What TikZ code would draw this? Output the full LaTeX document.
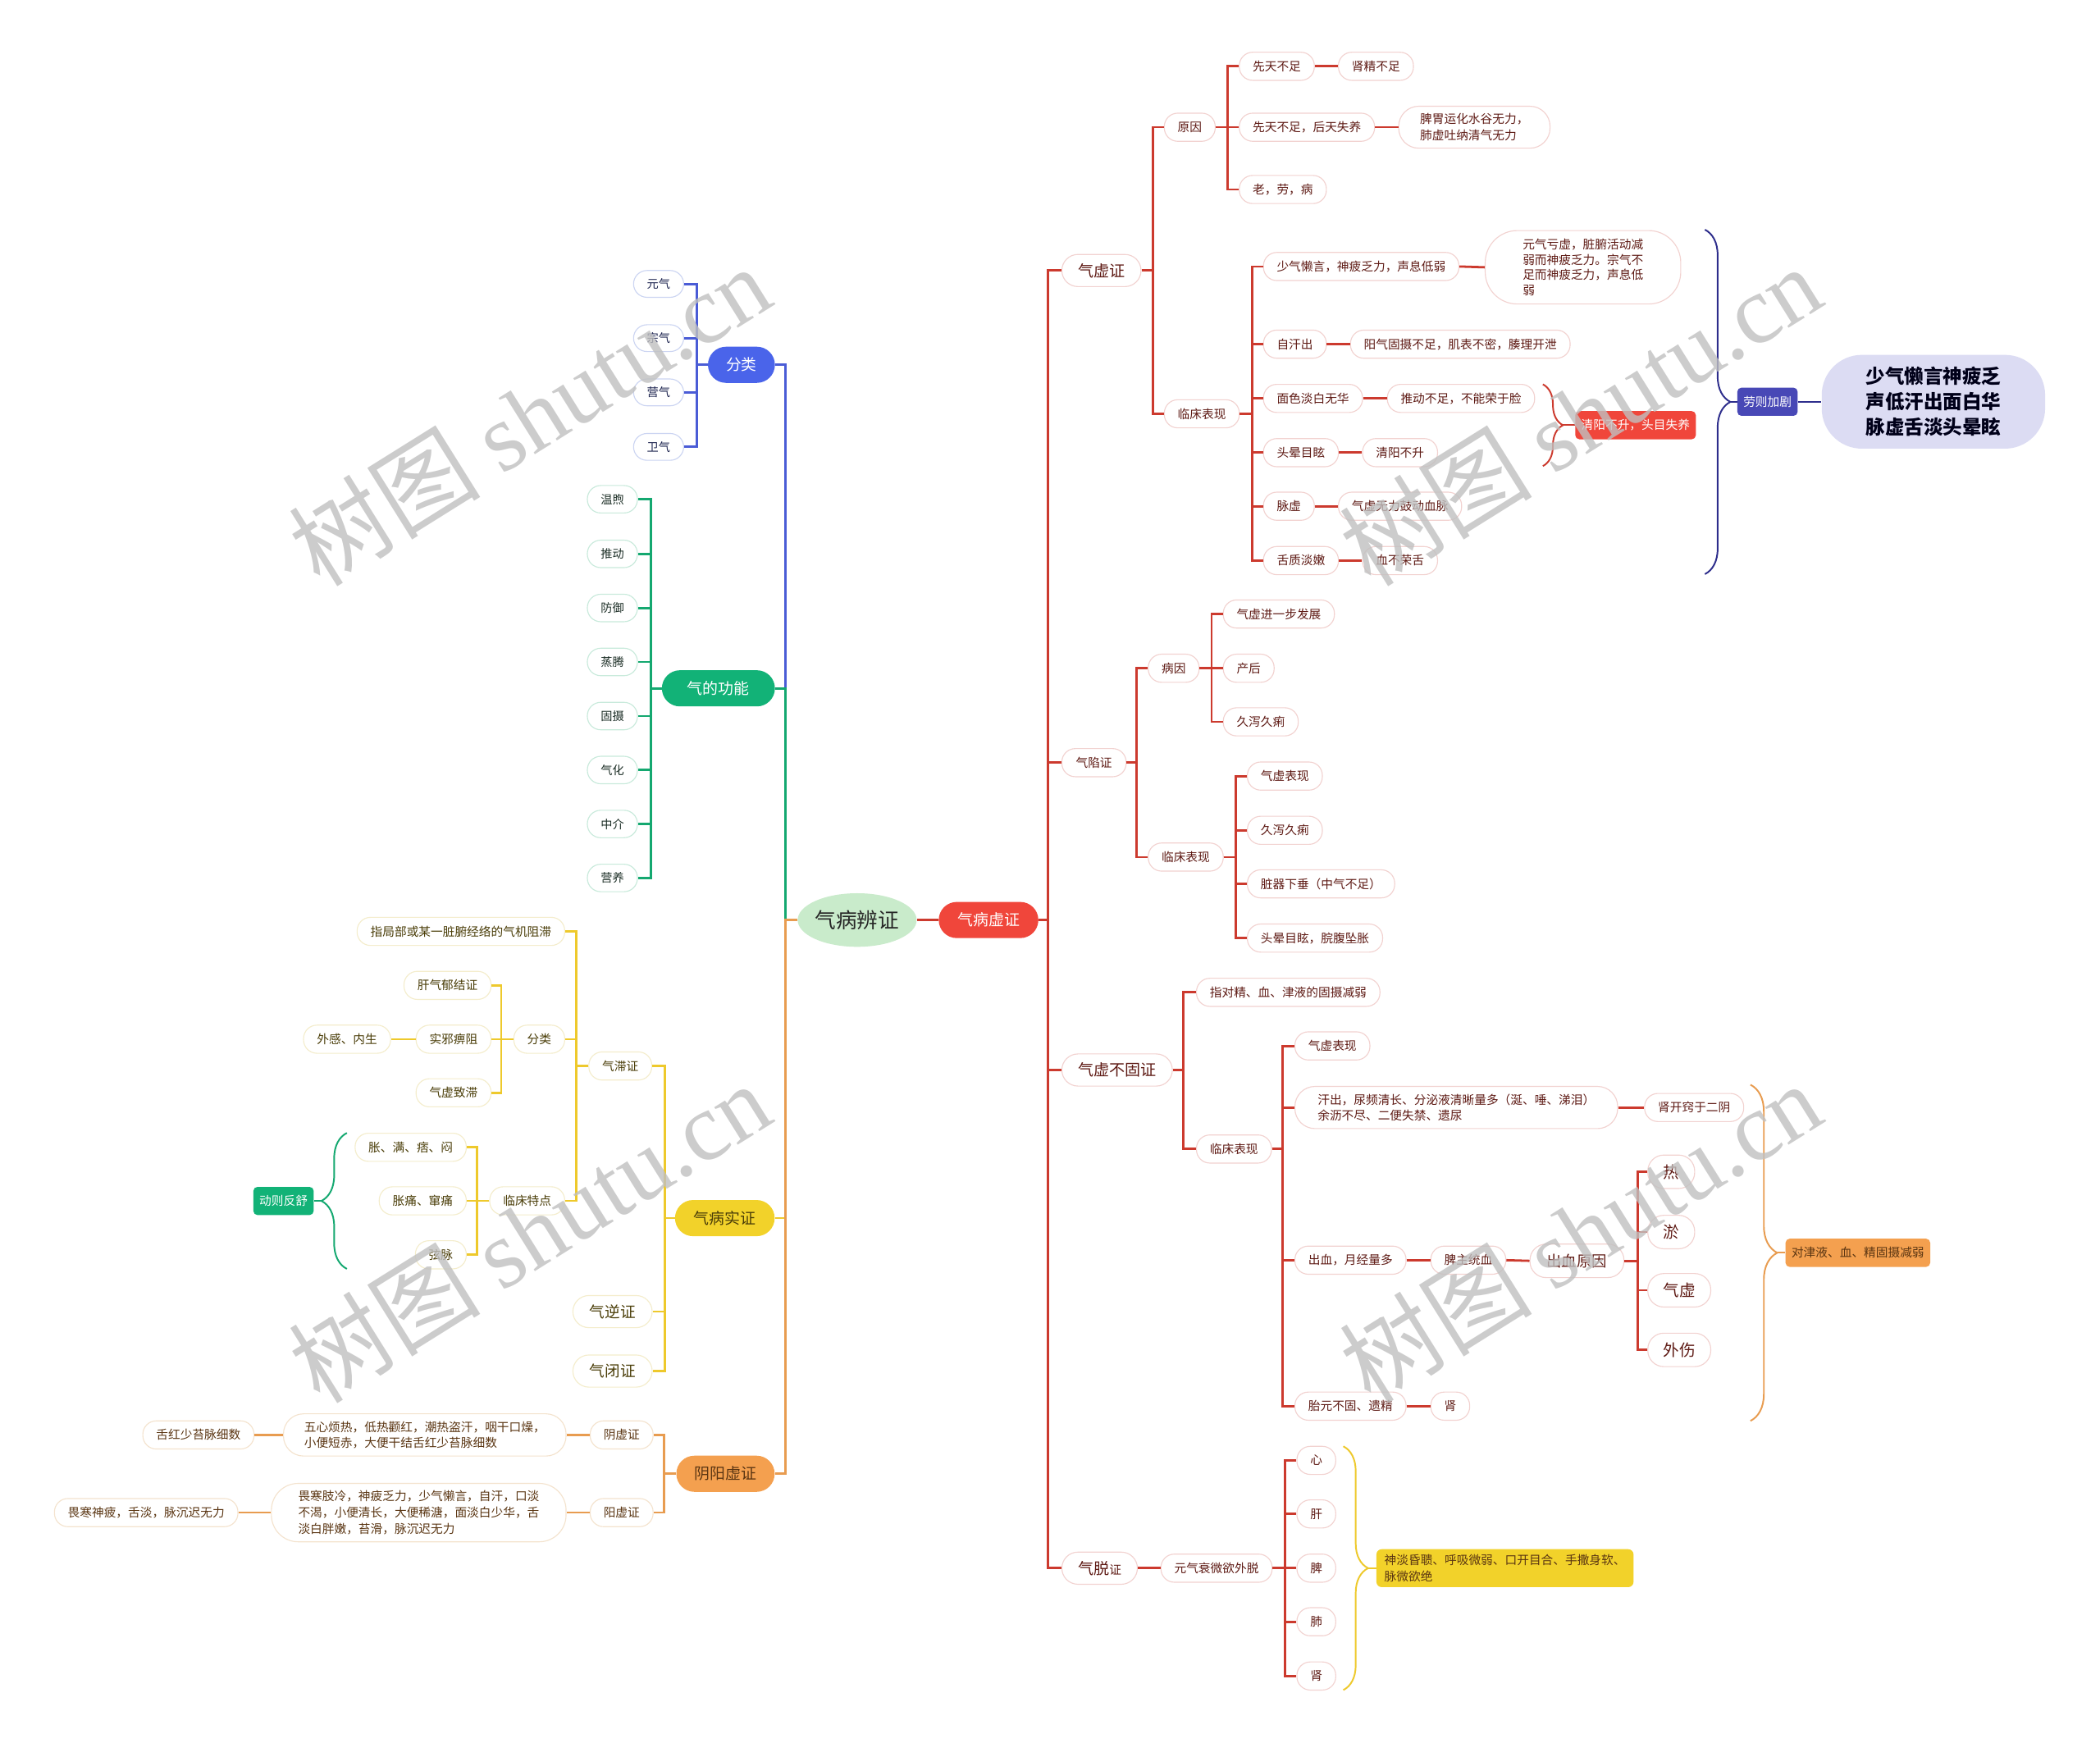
\documentclass[tikz,border=0pt]{standalone}
\usepackage{fontspec}
\setmainfont{Noto Sans CJK SC}
\newfontfamily\wmfont{Liberation Serif}
\usetikzlibrary{decorations.pathreplacing,shapes.geometric}
\newcommand\fsz[2]{\fontsize{#1}{#2}\selectfont}
\definecolor{rline}{HTML}{CC3A2E}
\definecolor{rbd}{HTML}{F2D2D0}
\definecolor{rtx}{HTML}{5E1A14}
\definecolor{rfill}{HTML}{F0463B}
\definecolor{bline}{HTML}{4A5CD6}
\definecolor{bfill}{HTML}{4A64EA}
\definecolor{bbd}{HTML}{CCD5F2}
\definecolor{btx}{HTML}{1E2550}
\definecolor{gline}{HTML}{14A870}
\definecolor{gfill}{HTML}{12B277}
\definecolor{gbd}{HTML}{C8EADB}
\definecolor{gtx}{HTML}{1C2E26}
\definecolor{yline}{HTML}{EEC92C}
\definecolor{yfill}{HTML}{F2D22A}
\definecolor{ybd}{HTML}{F4EDCC}
\definecolor{ytx}{HTML}{4A3D08}
\definecolor{oline}{HTML}{E89C50}
\definecolor{ofill}{HTML}{F4A04F}
\definecolor{obd}{HTML}{F4E3CE}
\definecolor{otx}{HTML}{5A3512}
\definecolor{navy}{HTML}{2E2E8C}
\definecolor{navyfill}{HTML}{4848B6}
\definecolor{lav}{HTML}{DCDCF3}
\definecolor{rootfill}{HTML}{C9EBCB}
\definecolor{wmc}{HTML}{C0C0C0}
\tikzset{
  conn/.style={line width=1.7pt},
  rl/.style={conn, draw=rline},
  bl/.style={conn, draw=bline},
  gl/.style={conn, draw=gline},
  yl/.style={conn, draw=yline},
  ol/.style={conn, draw=oline},
  box/.style={draw, fill=white, line width=0.7pt, rounded corners=10pt, inner xsep=10pt, inner ysep=2pt, minimum height=21pt, align=left, font={\fsz{9}{12}}},
  rn/.style={box, draw=rbd, text=rtx},
  bn/.style={box, draw=bbd, text=btx, minimum height=20pt, font={\fsz{8.7}{11}}},
  gn/.style={box, draw=gbd, text=gtx, minimum height=20.5pt, font={\fsz{8.7}{11}}},
  yn/.style={box, draw=ybd, text=ytx},
  orn/.style={box, draw=obd, text=otx},
  lvl/.style={font={\fsz{11.7}{14}}, inner xsep=12pt, minimum height=24pt, rounded corners=12pt},
  two/.style={inner ysep=5.5pt, rounded corners=15pt},
  pill/.style={draw=none, rounded corners=13.5pt, minimum height=27pt, inner xsep=14pt, inner ysep=2pt, font={\fsz{11.6}{14}}},
  tag/.style={draw=none, rounded corners=3pt, inner xsep=4.5pt, inner ysep=2pt, minimum height=21pt, font={\fsz{9}{12}}},
  brc/.style={decorate, decoration={brace, amplitude=#1}, line width=1.2pt},
  wm/.style={rotate=32, text=wmc, font={\fsz{72}{72}}, inner sep=0pt},
}
\newcommand\wmtext{树图 {\wmfont shutu.cn}}
\begin{document}
\begin{tikzpicture}[x=1pt,y=-1pt]
\fill[white] (0,0) rectangle (1568,1301);
\useasboundingbox (0,0) rectangle (1568,1301);

% ---------- root ----------
\node[ellipse, fill=rootfill, minimum width=88pt, minimum height=40pt, inner sep=0pt, font={\fsz{15.7}{18}}, text=black!85] (root) at (640,687) {气病辨证};
\node[pill, fill=rfill, text=white, anchor=west] (xz) at (700.7,687) {气病虚证};
\draw[rl] (root.east) -- (xz.west);

% ---------- right: level 2 ----------
\node[rn, lvl, anchor=west] (qxz) at (792.5,202) {气虚证};
\node[rn, anchor=west, inner xsep=10.5pt] (qxian) at (792.5,569.5) {气陷证};
\node[rn, lvl, anchor=west] (qbg) at (792.5,799) {气虚不固证};
\node[rn, lvl, anchor=west] (qtz) at (792.5,1171) {{\fsz{11.7}{14}气脱}{\fsz{9}{12}证}};
\foreach \c in {qxz,qxian,qbg,qtz} \draw[rl] (xz.east) -- ++(7,0) |- (\c.west);

% 气虚证
\node[rn, anchor=west] (yy) at (869,95) {原因};
\node[rn, anchor=west] (lc1) at (869,309) {临床表现};
\foreach \c in {yy,lc1} \draw[rl] (qxz.east) -- ++(8.5,0) |- (\c.west);

\node[rn, anchor=west] (xt1) at (925,49.5) {先天不足};
\node[rn, anchor=west] (sj) at (999,49.5) {肾精不足};
\node[rn, anchor=west] (xt2) at (925,95) {先天不足，后天失养};
\node[rn, two, anchor=west, inner xsep=16pt] (pw) at (1044,95) {脾胃运化水谷无力，\\肺虚吐纳清气无力};
\node[rn, anchor=west] (lao) at (925,141.5) {老，劳，病};
\foreach \c in {xt1,xt2,lao} \draw[rl] (yy.east) -- ++(9,0) |- (\c.west);
\draw[rl] (xt1.east) -- (sj.west);
\draw[rl] (xt2.east) -- (pw.west);

\node[rn, anchor=west] (s1) at (943,199) {少气懒言，神疲乏力，声息低弱};
\node[rn, anchor=west, inner xsep=28pt, inner ysep=6pt, rounded corners=24pt, font={\fsz{9}{11.5}}] (s1b) at (1108.6,199.6) {元气亏虚，脏腑活动减\\弱而神疲乏力。宗气不\\足而神疲乏力，声息低\\弱};
\node[rn, anchor=west] (s2) at (943,257) {自汗出};
\node[rn, anchor=west] (s2b) at (1008,257) {阳气固摄不足，肌表不密，腠理开泄};
\node[rn, anchor=west] (s3) at (943,297.5) {面色淡白无华};
\node[rn, anchor=west] (s3b) at (1035.5,297.5) {推动不足，不能荣于脸};
\node[rn, anchor=west] (s4) at (943,338) {头晕目眩};
\node[rn, anchor=west] (s4b) at (1017,338) {清阳不升};
\node[rn, anchor=west] (s5) at (943,378) {脉虚};
\node[rn, anchor=west] (s5b) at (999,378) {气虚无力鼓动血脉};
\node[rn, anchor=west] (s6) at (943,418.6) {舌质淡嫩};
\node[rn, anchor=west] (s6b) at (1017,418.6) {血不荣舌};
\foreach \c in {s1,s2,s3,s4,s5,s6} \draw[rl] (lc1.east) -- ++(9.5,0) |- (\c.west);
\foreach \a/\b in {s1/s1b,s2/s2b,s3/s3b,s4/s4b,s5/s5b,s6/s6b} \draw[rl] (\a.east) -- (\b.west);

\draw[brc=15pt, draw=rline] (1152,287) -- (1152,348);
\coordinate (rtip) at (1167,317.5);
\node[tag, fill=rfill, text=white, anchor=west] (qyb) at (1176,317.5) {清阳不升，头目失养};
\draw[rline, line width=1.2pt] (rtip) -- (qyb.west);

\draw[brc=19pt, draw=navy] (1273,171.5) -- (1273,428.7);
\coordinate (ntip) at (1292,300);
\node[tag, fill=navyfill, text=white, anchor=west] (ljjj) at (1297,300) {劳则加剧};
\draw[navy, line width=1.2pt] (ntip) -- (ljjj.west);
\node[draw=none, fill=lav, anchor=west, rounded corners=30pt, inner xsep=33pt, inner ysep=9pt, minimum height=68pt, align=center, font={\fsz{14.4}{19}\bfseries}, text=black!90!blue] (big) at (1360,300) {少气懒言神疲乏\\声低汗出面白华\\脉虚舌淡头晕眩};
\draw[navy, line width=1.5pt] (ljjj.east) -- (big.west);

% 气陷证
\node[rn, anchor=west] (by) at (857,499) {病因};
\node[rn, anchor=west] (lc2) at (857,640) {临床表现};
\foreach \c in {by,lc2} \draw[rl] (qxian.east) -- ++(7.5,0) |- (\c.west);
\node[rn, anchor=west] (b1) at (913,458.5) {气虚进一步发展};
\node[rn, anchor=west] (b2) at (913,499) {产后};
\node[rn, anchor=west] (b3) at (913,539) {久泻久痢};
\foreach \c in {b1,b2,b3} \draw[rl] (by.east) -- ++(9,0) |- (\c.west);
\node[rn, anchor=west] (c1) at (931,579.5) {气虚表现};
\node[rn, anchor=west] (c2) at (931,620) {久泻久痢};
\node[rn, anchor=west] (c3) at (931,660) {脏器下垂（中气不足）};
\node[rn, anchor=west] (c4) at (931,700.5) {头晕目眩，脘腹坠胀};
\foreach \c in {c1,c2,c3,c4} \draw[rl] (lc2.east) -- ++(9,0) |- (\c.west);

% 气虚不固证
\node[rn, anchor=west] (zd) at (893,741) {指对精、血、津液的固摄减弱};
\node[rn, anchor=west] (lc3) at (893,858) {临床表现};
\foreach \c in {zd,lc3} \draw[rl] (qbg.east) -- ++(8,0) |- (\c.west);
\node[rn, anchor=west] (d1) at (966.5,781) {气虚表现};
\node[rn, two, anchor=west, inner xsep=17pt] (d2) at (966.5,827) {汗出，尿频清长、分泌液清晰量多（涎、唾、涕泪）\\余沥不尽、二便失禁、遗尿};
\node[rn, anchor=west] (d2b) at (1227.6,827) {肾开窍于二阴};
\node[rn, anchor=west] (d3) at (966.5,941) {出血，月经量多};
\node[rn, anchor=west] (d3b) at (1068,941) {脾主统血};
\node[rn, anchor=west, font={\fsz{11.3}{14}}, inner xsep=12.5pt, minimum height=25pt, rounded corners=12pt] (cy) at (1142,941.5) {出血原因};
\node[rn, anchor=west] (d4) at (966.5,1050) {胎元不固、遗精};
\node[rn, anchor=west] (d4b) at (1068,1050) {肾};
\foreach \c in {d1,d2,d3,d4} \draw[rl] (lc3.east) -- ++(8,0) |- (\c.west);
\draw[rl] (d2.east) -- (d2b.west);
\draw[rl] (d3.east) -- (d3b.west);
\draw[rl] (d3b.east) -- (cy.west);
\draw[rl] (d4.east) -- (d4b.west);
\foreach \n/\t/\y in {h1/热/875, h2/淤/920, h3/气虚/963.5, h4/外伤/1008}
  \node[rn, anchor=west, font={\fsz{12}{14}}, inner xsep=11.5pt, minimum height=25pt, rounded corners=12pt] (\n) at (1230,\y) {\t};
\foreach \c in {h1,h2,h3,h4} \draw[rl] (cy.east) -- ++(10,0) |- (\c.west);

\draw[brc=20pt, draw=oline] (1307,810) -- (1307,1061);
\coordinate (otip) at (1327,935.5);
\node[tag, fill=ofill, text=otx, anchor=west] (djy) at (1333,935.5) {对津液、血、精固摄减弱};
\draw[oline, line width=1.2pt] (otip) -- (djy.west);

% 气脱证
\node[rn, anchor=west] (yq) at (866.5,1171) {元气衰微欲外脱};
\draw[rl] (qtz.east) -- (yq.west);
\foreach \n/\t/\y in {z1/心/1090.5, z2/肝/1130.5, z3/脾/1171, z4/肺/1211, z5/肾/1251.5}
  \node[rn, anchor=west] (\n) at (968,\y) {\t};
\foreach \c in {z1,z2,z3,z4,z5} \draw[rl] (yq.east) -- ++(9.5,0) |- (\c.west);
\draw[brc=18.5pt, draw=yline] (1003,1080) -- (1003,1262);
\coordinate (ytip) at (1021.5,1171);
\node[tag, fill=yfill, text=otx, anchor=west, align=left, inner xsep=6pt, inner ysep=4pt, rounded corners=4pt] (sd) at (1027.5,1171) {神淡昏聩、呼吸微弱、口开目合、手撒身软、\\脉微欲绝};
\draw[yline, line width=1.2pt] (ytip) -- (sd.west);

% ---------- left ----------
\node[pill, fill=bfill, text=white, anchor=east, inner xsep=13.5pt, font={\fsz{11.5}{14}}] (fl) at (578.8,272.4) {分类};
\node[pill, fill=gfill, text=white, anchor=east, inner xsep=19pt] (gf) at (578.8,514) {气的功能};
\node[pill, fill=yfill, text=ytx, anchor=east] (sz) at (578.6,909.6) {气病实证};
\node[pill, fill=ofill, text=otx, anchor=east, inner xsep=13.5pt] (yy2) at (578.6,1100.5) {阴阳虚证};
\draw[bl] (root.west) -- ++(-9,0) |- (fl.east);
\draw[gl] (root.west) -- ++(-9,0) |- (gf.east);
\draw[yl] (root.west) -- ++(-9,0) |- (sz.east);
\draw[ol] (root.west) -- ++(-9,0) |- (yy2.east);

\foreach \n/\t/\y in {k1/元气/212, k2/宗气/252.5, k3/营气/293, k4/卫气/333.7}
  \node[bn, anchor=east] (\n) at (510.8,\y) {\t};
\foreach \c in {k1,k2,k3,k4} \draw[bl] (fl.west) -- ++(-8.2,0) |- (\c.east);

\foreach \n/\t/\y in {f1/温煦/372.8, f2/推动/413.6, f3/防御/454, f4/蒸腾/494.3, f5/固摄/534.7, f6/气化/575, f7/中介/615.3, f8/营养/655.6}
  \node[gn, anchor=east] (\n) at (476.3,\y) {\t};
\foreach \c in {f1,f2,f3,f4,f5,f6,f7,f8} \draw[gl] (gf.west) -- ++(-8.2,0) |- (\c.east);

% 气病实证
\node[yn, anchor=east] (qz) at (487,796) {气滞证};
\node[yn, lvl, anchor=east, font={\fsz{11.4}{14}}, inner xsep=12.5pt] (qn) at (487.3,979.4) {气逆证};
\node[yn, lvl, anchor=east, font={\fsz{11.4}{14}}, inner xsep=12.5pt] (qb) at (487.3,1023.8) {气闭证};
\foreach \c in {qz,qn,qb} \draw[yl] (sz.west) -- ++(-7.6,0) |- (\c.east);

\node[yn, anchor=east] (zj) at (422,695.5) {指局部或某一脏腑经络的气机阻滞};
\node[yn, anchor=east] (fl2) at (422,776) {分类};
\node[yn, anchor=east] (lt) at (422,896.7) {临床特点};
\foreach \c in {zj,fl2,lt} \draw[yl] (qz.west) -- ++(-9,0) |- (\c.east);

\node[yn, anchor=east] (g1) at (367,735.8) {肝气郁结证};
\node[yn, anchor=east] (g2) at (367,776) {实邪痹阻};
\node[yn, anchor=east] (g2b) at (292,776) {外感、内生};
\node[yn, anchor=east] (g3) at (367,816) {气虚致滞};
\foreach \c in {g1,g2,g3} \draw[yl] (fl2.west) -- ++(-9,0) |- (\c.east);
\draw[yl] (g2.west) -- (g2b.east);

\node[yn, anchor=east] (t1) at (348.5,856.7) {胀、满、痞、闷};
\node[yn, anchor=east] (t2) at (348.5,896.7) {胀痛、窜痛};
\node[yn, anchor=east] (t3) at (348.5,937) {弦脉};
\foreach \c in {t1,t2,t3} \draw[yl] (lt.west) -- ++(-9,0) |- (\c.east);

\draw[brc=19pt, draw=gline] (259,947.5) -- (259,846);
\coordinate (gtip) at (240,896.8);
\node[tag, fill=gfill, text=white, anchor=east] (dzfs) at (234.4,896.8) {动则反舒};
\draw[gline, line width=1.2pt] (gtip) -- (dzfs.east);

% 阴阳虚证
\node[orn, anchor=east] (yin) at (488,1071.5) {阴虚证};
\node[orn, anchor=east] (yang) at (488,1129.5) {阳虚证};
\foreach \c in {yin,yang} \draw[ol] (yy2.west) -- ++(-9,0) |- (\c.east);
\node[orn, two, anchor=east, inner xsep=15.5pt] (yinb) at (423,1071.5) {五心烦热，低热颧红，潮热盗汗，咽干口燥，\\小便短赤，大便干结舌红少苔脉细数};
\node[orn, anchor=east] (yinc) at (190,1071.5) {舌红少苔脉细数};
\node[orn, two, anchor=east, inner xsep=20pt, rounded corners=20pt] (yangb) at (423,1129.5) {畏寒肢冷，神疲乏力，少气懒言，自汗，口淡\\不渴，小便清长，大便稀溏，面淡白少华，舌\\淡白胖嫩，苔滑，脉沉迟无力};
\node[orn, anchor=east] (yangc) at (178,1129.5) {畏寒神疲，舌淡，脉沉迟无力};
\draw[ol] (yin.west) -- (yinb.east);
\draw[ol] (yinb.west) -- (yinc.east);
\draw[ol] (yang.west) -- (yangb.east);
\draw[ol] (yangb.west) -- (yangc.east);

% ---------- watermarks ----------
\node[wm, opacity=0.8] (w1) at (395,310) {\wmtext};
\node[wm, opacity=0.8] (w2) at (395,920) {\wmtext};
\node[wm, opacity=0.8] (w3) at (1180,310) {\wmtext};
\node[wm, opacity=0.8] (w4) at (1180,920) {\wmtext};
\end{tikzpicture}
\end{document}
